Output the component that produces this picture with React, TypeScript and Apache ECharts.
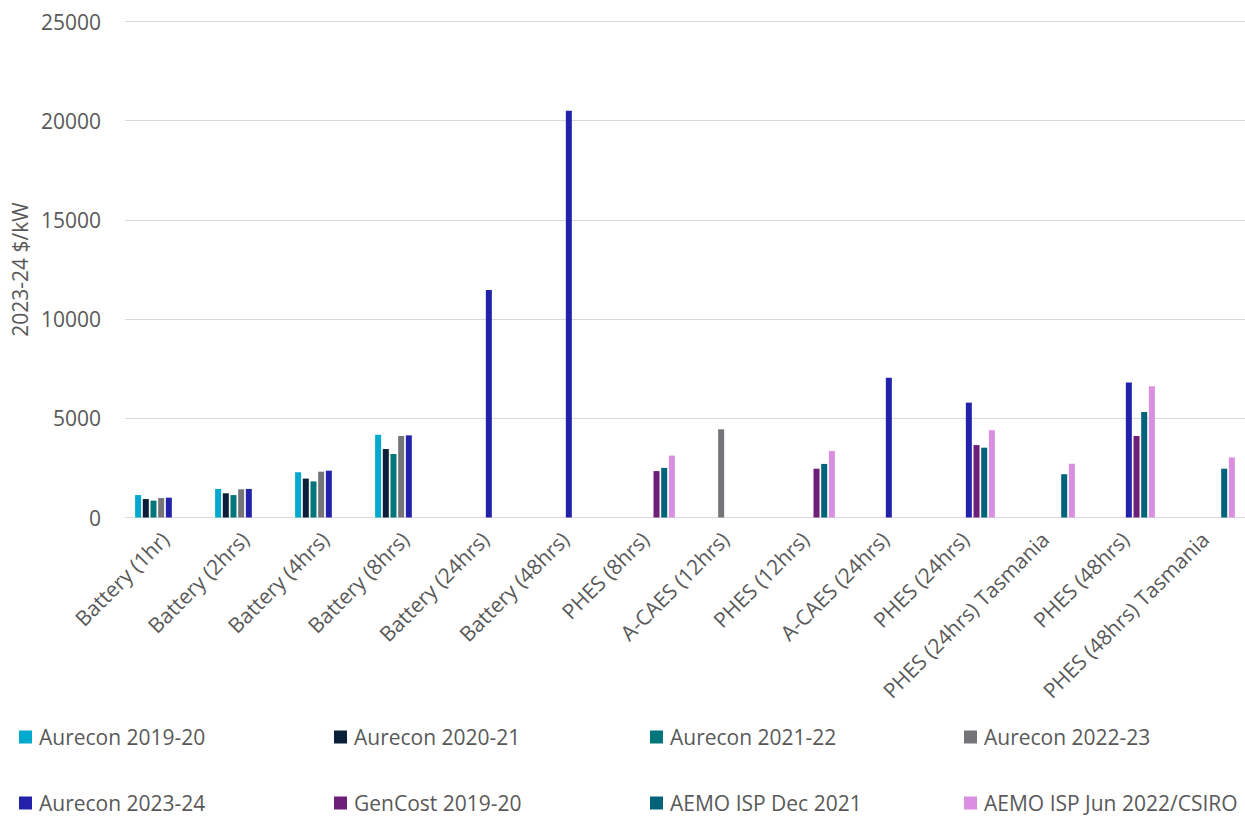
import React, { useEffect, useRef } from "react";
import * as echarts from "echarts";

const categories = [
  "Battery (1hr)",
  "Battery (2hrs)",
  "Battery (4hrs)",
  "Battery (8hrs)",
  "Battery (24hrs)",
  "Battery (48hrs)",
  "PHES (8hrs)",
  "A-CAES (12hrs)",
  "PHES (12hrs)",
  "A-CAES (24hrs)",
  "PHES (24hrs)",
  "PHES (24hrs) Tasmania",
  "PHES (48hrs)",
  "PHES (48hrs) Tasmania",
];

const aurecon1920 = [1130, 1440, 2280, 4170, null, null, null, null, null, null, null, null, null, null];
const aurecon2021 = [930, 1220, 1960, 3450, null, null, null, null, null, null, null, null, null, null];
const aurecon2122 = [850, 1130, 1820, 3200, null, null, null, null, null, null, null, null, null, null];
const aurecon2223 = [980, 1420, 2310, 4110, null, null, null, 4445, null, null, null, null, null, null];
const aurecon2324 = [1000, 1440, 2360, 4140, 11470, 20500, null, null, null, 7050, 5790, null, 6810, null];
const genCost1920 = [null, null, null, null, null, null, 2340, null, 2460, null, 3650, null, 4110, null];
const aemoIspDec21 = [null, null, null, null, null, null, 2500, null, 2700, null, 3520, 2180, 5320, 2460];
const aemoIspJun22 = [null, null, null, null, null, null, 3120, null, 3350, null, 4400, 2710, 6610, 3030];

const seriesNames = [
  "Aurecon 2019-20",
  "Aurecon 2020-21",
  "Aurecon 2021-22",
  "Aurecon 2022-23",
  "Aurecon 2023-24",
  "GenCost 2019-20",
  "AEMO ISP Dec 2021",
  "AEMO ISP Jun 2022/CSIRO",
];
const seriesData = [
  aurecon1920,
  aurecon2021,
  aurecon2122,
  aurecon2223,
  aurecon2324,
  genCost1920,
  aemoIspDec21,
  aemoIspJun22,
];
const seriesColors = [
  "#00A9CE",
  "#0B1F38",
  "#00767A",
  "#757579",
  "#2222AB",
  "#6D1F7A",
  "#00637A",
  "#DA8FE1",
];

const yTicks = { min: 0, max: 25000, interval: 5000 };

// legend grid: 4 columns x 2 rows
const legendCols = [19, 334, 650, 964];
const legendRows = [726, 792];

const FONT = "'Open Sans', sans-serif";
const TEXT = "#595959";

export default function App() {
  const ref = useRef<HTMLDivElement>(null);

  useEffect(() => {
    document.body.style.margin = "0";
    if (!ref.current) return;
    const chart = echarts.init(ref.current, null, { renderer: "svg" });

    const legends = seriesNames.map((name, i) => ({
      data: [name],
      left: legendCols[i % 4],
      top: legendRows[Math.floor(i / 4)],
      padding: 0,
      itemWidth: 13,
      itemHeight: 13,
      icon: "rect",
      selectedMode: false,
      textStyle: {
        fontFamily: FONT,
        fontSize: 21,
        color: TEXT,
        lineHeight: 22,
        padding: [0, 0, 0, 2],
      },
    }));

    chart.setOption({
      animation: false,
      backgroundColor: "#ffffff",
      textStyle: { fontFamily: FONT },
      grid: {
        left: 125,
        right: 0,
        top: 21.5,
        bottom: 298.5,
        containLabel: false,
        outerBoundsMode: "none",
      },
      legend: legends,
      xAxis: {
        type: "category",
        data: categories,
        axisLine: { show: true, lineStyle: { color: "#D9D9D9", width: 1 } },
        axisTick: { show: false },
        axisLabel: {
          interval: 0,
          rotate: 45,
          fontFamily: FONT,
          fontSize: 21,
          color: TEXT,
          margin: 18,
        },
      },
      yAxis: {
        type: "value",
        min: yTicks.min,
        max: yTicks.max,
        interval: yTicks.interval,
        name: "2023-24 $/kW",
        nameLocation: "middle",
        nameRotate: 90,
        nameGap: 94,
        nameTextStyle: { fontFamily: FONT, fontSize: 21, color: TEXT },
        axisLine: { show: false },
        axisTick: { show: false },
        axisLabel: {
          fontFamily: FONT,
          fontSize: 21,
          color: TEXT,
          margin: 24,
          formatter: (v: number) => String(v),
        },
        splitLine: { lineStyle: { color: "#D9D9D9", width: 1 } },
      },
      series: seriesNames.map((name, i) => ({
        name,
        type: "bar",
        data: seriesData[i],
        barWidth: 6,
        barGap: "28%",
        itemStyle: { color: seriesColors[i] },
      })),
    });

    return () => chart.dispose();
  }, []);

  return <div ref={ref} style={{ width: 1245, height: 816 }} />;
}
